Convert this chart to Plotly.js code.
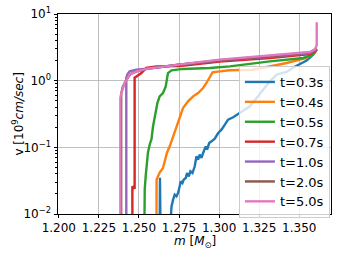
<!DOCTYPE html>
<html>
<head>
<meta charset="utf-8">
<script src="https://cdn.plot.ly/plotly-3.0.1.min.js"></script>
<style>html,body{margin:0;padding:0;background:#fff}#chart{width:342px;height:257px}</style>
</head>
<body>
<div id="chart"></div>
<script>
// t = 0.3 s
const m03 = [1.2628,1.2631,1.2634,1.2638,
  1.2698,1.2703,1.2713,1.2723,1.2734,1.2744,1.2754,1.2761,1.2771,1.2779,1.2792,1.2800,1.2811,1.2821,1.2834,1.2848,1.2859,1.2869,1.2879,1.2890,1.2900,1.2917,1.2925,1.2938,1.2953,1.2973,1.2994,1.3015,1.3036,1.3056,1.3088,1.3129,1.3192,1.3234,1.3275,1.3317,1.3359,1.3421,1.3463,1.3494,1.3546,1.3578,1.3609];
const v03 = [0.001,0.035,0.025,0.001,
  0.008,0.0130,0.0164,0.0195,0.0184,0.0207,0.0260,0.0309,0.0292,0.0327,0.0347,0.0412,0.0367,0.0437,0.0412,0.0519,0.0733,0.0653,0.0776,0.0692,0.0822,0.1035,0.0923,0.116,0.123,0.135,0.164,0.184,0.219,0.260,0.282,0.331,0.412,0.550,0.733,0.977,1.23,1.35,1.58,1.74,2.0,2.34,2.95];
// t = 0.4 s
const m04 = [1.2609,1.2610,1.2620,1.2629,1.2650,1.2661,1.2675,1.2692,1.2713,1.2734,1.2754,1.2775,1.2806,1.2838,1.2869,1.2900,1.2921,1.2942,1.2959,1.3004,1.3067,1.3213,1.3317,1.3421,1.3546,1.3598,1.3609];
const v04 = [0.001,0.033,0.037,0.0417,0.049,0.0617,0.083,0.1035,0.146,0.207,0.292,0.389,0.49,0.582,0.653,0.776,0.923,1.16,1.33,1.38,1.43,1.46,1.64,1.84,2.19,2.6,3.0];
// t = 0.5 s
const m05 = [1.2531,1.2536,1.2542,1.2550,1.2556,1.2567,1.2578,1.2588,1.2603,1.2615,1.2629,1.2650,1.2667,1.2675,1.2681,1.2703,1.2775,1.2942,1.3067,1.3317,1.3525,1.3586,1.3609];
const v05 = [0.001,0.0234,0.037,0.0589,0.083,0.11,0.132,0.207,0.327,0.462,0.582,0.653,0.822,1.10,1.30,1.43,1.50,1.55,1.64,1.95,2.19,2.45,2.95];
// t = 0.7 s
const m07 = [1.2459,1.2459,1.2473,1.2473,1.2500,1.2515,1.2546,1.2609,1.2754,1.3004,1.3317,1.3567,1.3609];
const v07 = [0.001,0.026,0.024,1.11,1.23,1.30,1.55,1.64,1.66,1.93,2.19,2.51,2.88];
// t = 1.0 s
const m10 = [1.2421,1.2421,1.2429,1.2442,1.2484,1.2546,1.2734,1.3004,1.3317,1.3567,1.3609];
const v10 = [0.001,1.1,1.26,1.38,1.46,1.51,1.72,2.0,2.29,2.6,2.95];
// t = 2.0 s
const m20 = [1.2389,1.2389,1.2398,1.2423,1.2448,1.2486,1.2548,1.2734,1.3004,1.3317,1.3567,1.3609];
const v20 = [0.001,0.63,0.79,1.05,1.26,1.38,1.5,1.72,2.02,2.32,2.66,3.0];
// t = 5.0 s
const m50 = [1.2384,1.2384,1.2390,1.2411,1.2442,1.2484,1.2546,1.2629,1.2734,1.2859,1.3004,1.3317,1.3567,1.3598,1.3609,1.3609];
const v50 = [0.001,0.55,0.65,0.92,1.23,1.38,1.50,1.6,1.74,1.88,2.07,2.37,2.69,2.95,3.4,7.5];

const names = ['t=0.3s','t=0.4s','t=0.5s','t=0.7s','t=1.0s','t=2.0s','t=5.0s'];
const colors = ['#1f77b4','#ff7f0e','#2ca02c','#d62728','#9467bd','#8c564b','#e377c2'];
const xs = [m03,m04,m05,m07,m10,m20,m50];
const ys = [v03,v04,v05,v07,v10,v20,v50];

const xTickVals = [1.200,1.225,1.250,1.275,1.300,1.325,1.350];
const xTickText = ['1.200','1.225','1.250','1.275','1.300','1.325','1.350'];
const yTickVals = [0.01,0.1,1,10];
const yTickText = ['10<sup>−2</sup>','10<sup>−1</sup>','10<sup>0</sup>','10<sup>1</sup>'];
const xTitle = '<i>m</i> [<i>M</i><sub>⊙</sub>]';
const yTitle = 'v [10<sup>9</sup><i>cm/sec</i>]';

const traces = names.map((n,i)=>({
  x: xs[i], y: ys[i], name: n, type: 'scatter', mode: 'lines',
  line: {color: colors[i], width: 2.4}
}));

const F = 'DejaVu Sans';
const layout = {
  width: 342, height: 257,
  margin: {l: 58, r: 11, t: 14, b: 43},
  paper_bgcolor: '#fff', plot_bgcolor: '#fff',
  font: {family: F, size: 12, color: '#000'},
  showlegend: true,
  legend: {x: 0.996, y: 0.74, xanchor: 'right', yanchor: 'top',
    bgcolor: 'rgba(255,255,255,0.8)', bordercolor: '#cccccc', borderwidth: 1,
    font: {family: F, size: 13, color: '#000'}},
  xaxis: {range: [1.1995, 1.3698], tickmode: 'array', tickvals: xTickVals, ticktext: xTickText,
    showline: true, mirror: true, linecolor: '#000', linewidth: 1,
    ticks: 'outside', ticklen: 2.5, tickcolor: '#000',
    showgrid: true, gridcolor: '#b0b0b0', gridwidth: 0.8, zeroline: false,
    tickfont: {family: F, size: 12, color: '#000'}},
  yaxis: {type: 'log', range: [-2, 1], tickmode: 'array', tickvals: yTickVals, ticktext: yTickText,
    showline: true, mirror: true, linecolor: '#000', linewidth: 1,
    ticks: 'outside', ticklen: 3.5, tickcolor: '#000',
    showgrid: true, gridcolor: '#b0b0b0', gridwidth: 0.8, zeroline: false,
    minor: {dtick: 'D1', ticks: 'outside', ticklen: 2, tickcolor: '#000', showgrid: false},
    tickfont: {family: F, size: 12, color: '#000'}},
  annotations: [
    {text: xTitle, xref: 'paper', yref: 'paper', x: 0.5, y: -0.14, xanchor: 'center', yanchor: 'middle',
      showarrow: false, font: {family: F, size: 12, color: '#000'}},
    {text: yTitle, xref: 'paper', yref: 'paper', x: -0.148, y: 0.5, xanchor: 'center', yanchor: 'middle',
      textangle: -90, showarrow: false, font: {family: F, size: 12, color: '#000'}}
  ]
};
Plotly.newPlot('chart', traces, layout, {displayModeBar: false, staticPlot: true});
</script>
</body>
</html>
